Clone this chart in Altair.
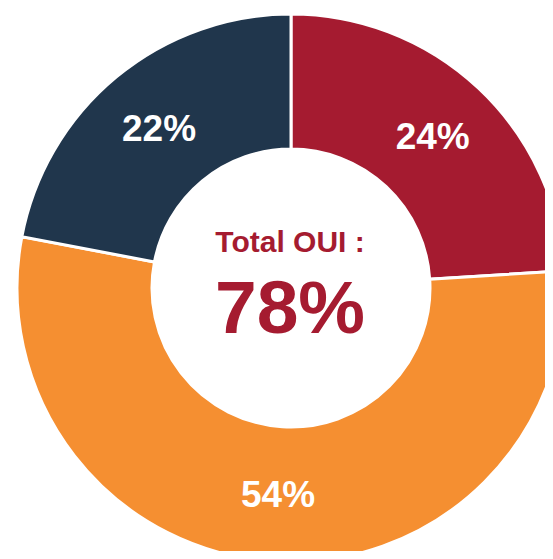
import altair as alt
import pandas as pd

categories = ["A", "B", "C"]
values = [24, 54, 22]
labels = ["24%", "54%", "22%"]
colors = ["#A51B30", "#F58F31", "#20364C"]
center_title = "Total OUI :"
center_value = "78%"

df = pd.DataFrame({"cat": categories, "val": values, "label": labels, "idx": [0, 1, 2]})

CX, CY = 283, 280
FONT = "Liberation Sans"

base = alt.Chart(df).encode(
    theta=alt.Theta("val:Q", stack=True),
    order=alt.Order("idx:Q"),
    x=alt.value(CX),
    y=alt.value(CY),
)

arcs = base.mark_arc(outerRadius=274, innerRadius=139, stroke="white", strokeWidth=3).encode(
    color=alt.Color("cat:N", scale=alt.Scale(domain=categories, range=colors), legend=None)
)

texts = base.mark_text(radius=207, font=FONT, fontSize=37, fontWeight="bold",
                       color="white", baseline="middle", align="center", dy=1).encode(
    text="label:N"
)

title_df = pd.DataFrame({"t": [center_title]})
value_df = pd.DataFrame({"t": [center_value]})

t1 = alt.Chart(title_df).mark_text(font=FONT, fontSize=30, fontWeight="bold", color="#A51B30",
                                   baseline="alphabetic", align="center").encode(
    text="t:N", x=alt.value(CX - 1), y=alt.value(244))
t2 = alt.Chart(value_df).mark_text(font=FONT, fontSize=75, fontWeight="bold", color="#A51B30",
                                   baseline="alphabetic", align="center").encode(
    text="t:N", x=alt.value(CX - 1), y=alt.value(325))

chart = alt.layer(arcs, texts, t1, t2).properties(
    width=537, height=543, padding=0, autosize=alt.AutoSizeParams(type="none")
).configure_view(stroke=None)

chart.save("out.html", embed_options={"renderer": "svg", "actions": False})
